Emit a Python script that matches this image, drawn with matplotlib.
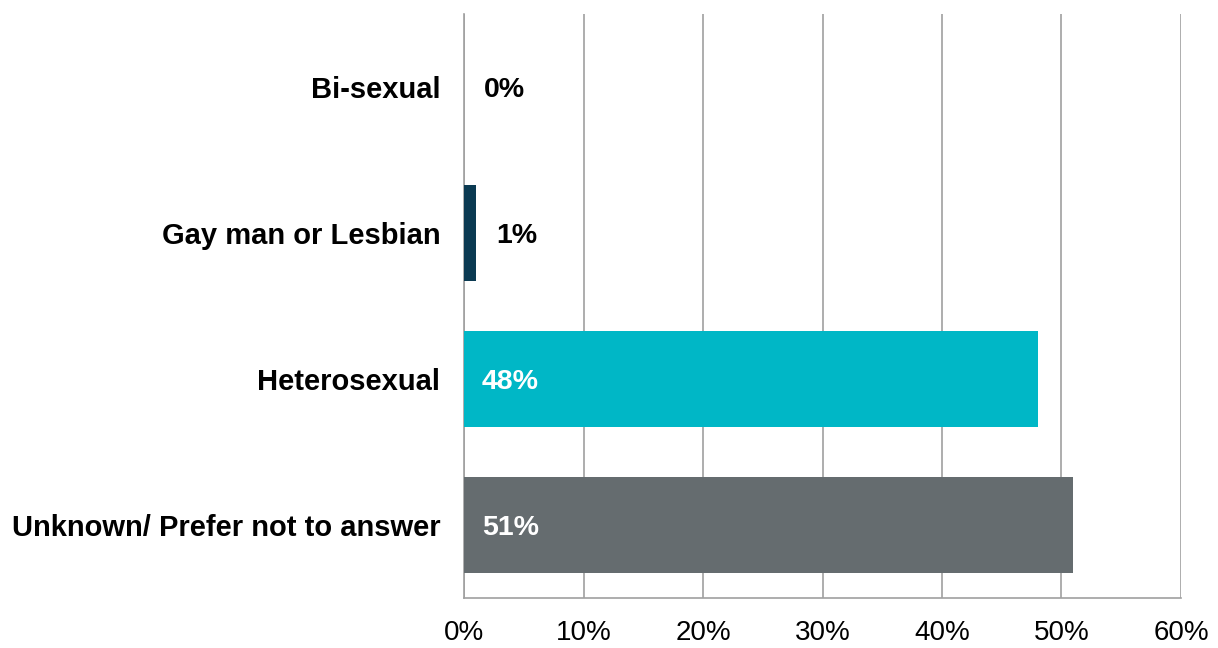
import matplotlib.pyplot as plt
from matplotlib.ticker import PercentFormatter

plt.rcParams['font.family'] = ['Liberation Sans', 'DejaVu Sans']

# data, top to bottom as shown
categories = ["Bi-sexual", "Gay man or Lesbian", "Heterosexual", "Unknown/ Prefer not to answer"]
values = [0, 1, 48, 51]
colors = ["#0b3a52", "#0b3a52", "#00b7c6", "#656c6f"]
label_inside = [False, False, True, True]

fig = plt.figure(figsize=(12.18, 6.48), dpi=100)
ax = fig.add_axes([0.381, 0.077, 0.5886, 0.901])

y = list(range(len(categories)))[::-1]
ax.barh(y, values, height=0.655, color=colors, zorder=3)

for yi, v, inside in zip(y, values, label_inside):
    if inside:
        ax.text(1.5, yi, f"{v}%", va="center_baseline", ha="left", color="white",
                fontsize=20.5, fontweight="bold", zorder=4)
    else:
        ax.text(v + 1.7, yi, f"{v}%", va="center_baseline", ha="left", color="black",
                fontsize=20.5, fontweight="bold", zorder=4)

ax.set_xlim(0, 60)
ax.set_ylim(-0.5, 3.5)
ax.set_xticks(range(0, 61, 10))
ax.xaxis.set_major_formatter(PercentFormatter(decimals=0))
ax.set_yticks(y)
ax.set_yticklabels(categories, fontsize=21, fontweight="bold")
ax.tick_params(axis="x", labelsize=20, length=0, pad=16)
ax.tick_params(axis="y", length=0, pad=17)

ax.grid(axis="x", color="#a0a0a0", linewidth=1.2, zorder=0)
for side in ["top", "right"]:
    ax.spines[side].set_visible(False)
ax.spines["left"].set_color("#a0a0a0")
ax.spines["bottom"].set_color("#a0a0a0")
ax.spines["left"].set_linewidth(1.2)
ax.spines["bottom"].set_linewidth(1.2)

fig.savefig("out.png", dpi=100)
